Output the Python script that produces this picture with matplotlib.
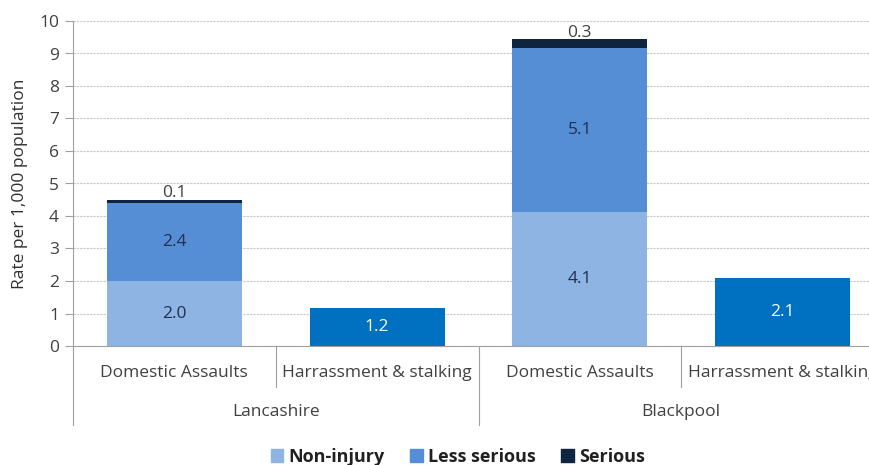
import matplotlib
matplotlib.use("Agg")
import matplotlib.pyplot as plt
from matplotlib.patches import Patch
from matplotlib.transforms import blended_transform_factory

# data
categories = ["Domestic Assaults", "Harrassment & stalking",
              "Domestic Assaults", "Harrassment & stalking"]
groups = ["Lancashire", "Blackpool"]
non_injury = [2.0, 0, 4.12, 0]
less_serious = [2.4, 0, 5.06, 0]
serious = [0.1, 0, 0.26, 0]
harassment = [0, 1.16, 0, 2.08]

c_non = "#8EB4E3"
c_less = "#558ED5"
c_ser = "#0F243E"
c_har = "#0070C0"
txt = "#404040"
fs = 12.5

plt.rcParams['font.family'] = ['Open Sans', 'DejaVu Sans']

fig = plt.figure(figsize=(8.69, 4.65), dpi=100)
ax = fig.add_axes([73 / 869, 119 / 465, 811 / 869, 325 / 465])

x = list(range(len(categories)))
w = 0.667
b1 = ax.bar(x, non_injury, w, color=c_non, label="Non-injury")
bottom2 = non_injury
b2 = ax.bar(x, less_serious, w, bottom=bottom2, color=c_less, label="Less serious")
bottom3 = [a + b for a, b in zip(non_injury, less_serious)]
b3 = ax.bar(x, serious, w, bottom=bottom3, color=c_ser, label="Serious")
b4 = ax.bar(x, harassment, w, color=c_har)

# value labels
for i in x:
    if non_injury[i] > 0:
        ax.text(i, non_injury[i] / 2, f"{non_injury[i]:.1f}", ha="center", va="center",
                fontsize=fs, color="#1F3050")
        ax.text(i, non_injury[i] + less_serious[i] / 2, f"{less_serious[i]:.1f}",
                ha="center", va="center", fontsize=fs, color="#1F3050")
        ax.text(i, bottom3[i] + serious[i] - 0.05, f"{serious[i]:.1f}", ha="center",
                va="bottom", fontsize=fs, color=txt)
    if harassment[i] > 0:
        ax.text(i, harassment[i] / 2, f"{harassment[i]:.1f}", ha="center", va="center",
                fontsize=fs, color="white")

ax.set_xlim(-0.5, 3.5)
ax.set_ylim(0, 10)
ax.set_yticks(range(0, 11))
ax.tick_params(axis="y", labelsize=fs, labelcolor=txt, color="#A0A0A0", length=6,
               width=0.8, pad=4)
ax.set_xticks([])
ax.yaxis.grid(True, linestyle=(0, (2, 1)), color="#C8C8C8", linewidth=0.8)
ax.set_axisbelow(True)
for s in ["top", "right", "left"]:
    ax.spines[s].set_visible(False)
ax.spines["bottom"].set_color("#A0A0A0")

# multi level category axis (the last label runs off the right edge, as in the source)
tr = blended_transform_factory(ax.transData, ax.transAxes)
for i, c in enumerate(categories):
    ax.text(i, -0.083, c, transform=tr, ha="center", va="center", fontsize=fs, color=txt)
for j, g in enumerate(groups):
    ax.text(2 * j + 0.5, -0.203, g, transform=tr, ha="center", va="center",
            fontsize=fs, color=txt)
ax.plot([-0.5, -0.5], [1, -0.243], transform=tr, color="#A0A0A0", lw=0.8, clip_on=False)
ax.plot([1.5, 1.5], [0, -0.243], transform=tr, color="#A0A0A0", lw=0.8, clip_on=False)
for xs in [0.5, 2.5]:
    ax.plot([xs, xs], [0, -0.126], transform=tr, color="#A0A0A0", lw=0.8, clip_on=False)

ax.set_ylabel("Rate per 1,000 population", fontsize=fs, color="#303030", labelpad=8)

handles = [Patch(color=c_non, label="Non-injury"),
           Patch(color=c_less, label="Less serious"),
           Patch(color=c_ser, label="Serious")]
leg = fig.legend(handles=handles, loc="lower center", bbox_to_anchor=(0.527, -0.037),
                 ncol=3, frameon=False, handlelength=0.7, handleheight=0.7,
                 handletextpad=0.3, columnspacing=1.4,
                 prop={"weight": "bold", "size": 13})
for t in leg.get_texts():
    t.set_color("#202020")

fig.savefig("out.png", dpi=100)
